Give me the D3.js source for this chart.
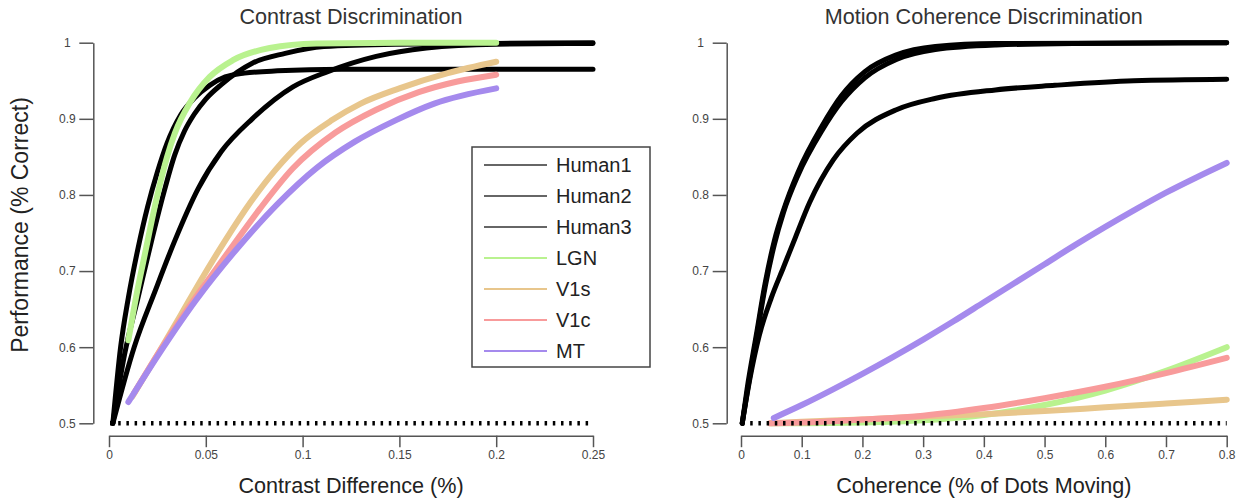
<!DOCTYPE html>
<html>
<head>
<meta charset="utf-8">
<script src="https://cdn.jsdelivr.net/npm/d3@7"></script>
<style>
  body { margin: 0; background: #fff; }
  svg { display: block; font-family: "Liberation Sans", Arial, Helvetica, sans-serif; }
</style>
</head>
<body>
<svg id="viz" width="1239" height="500"></svg>
<script>
// ---- data ----
const seriesNames = ["Human1", "Human2", "Human3", "LGN", "V1s", "V1c", "MT"];
const seriesColors = ["#000", "#000", "#000", "#b9f28f", "#e8c68c", "#f89b9b", "#a58aed"];

const yTicks = [0.5, 0.6, 0.7, 0.8, 0.9, 1];
const contrastTicks = [0, 0.05, 0.1, 0.15, 0.2, 0.25];
const coherenceTicks = [0, 0.1, 0.2, 0.3, 0.4, 0.5, 0.6, 0.7, 0.8];

// contrast discrimination  [contrast difference, performance]
const contrastHuman1 = [[0.002,0.5],[0.006,0.6],[0.01,0.665],[0.015,0.73],[0.02,0.785],[0.025,0.83],[0.03,0.868],[0.037,0.905],[0.044,0.927],[0.052,0.944],[0.06,0.955],[0.07,0.96],[0.087,0.963],[0.12,0.965],[0.25,0.965]];
const contrastHuman2 = [[0.002,0.5],[0.008,0.59],[0.015,0.665],[0.022,0.74],[0.028,0.8],[0.034,0.853],[0.039,0.884],[0.044,0.906],[0.05,0.926],[0.058,0.945],[0.074,0.973],[0.091,0.986],[0.111,0.995],[0.148,0.998],[0.2,0.999],[0.25,1]];
const contrastHuman3 = [[0.002,0.5],[0.013,0.6],[0.024,0.675],[0.034,0.74],[0.046,0.808],[0.058,0.857],[0.074,0.9],[0.095,0.942],[0.113,0.962],[0.138,0.982],[0.164,0.993],[0.2,0.998],[0.25,0.999]];
const contrastLGN = [[0.01,0.609],[0.014,0.666],[0.019,0.728],[0.025,0.8],[0.03,0.85],[0.034,0.881],[0.042,0.922],[0.052,0.955],[0.064,0.977],[0.083,0.993],[0.107,0.999],[0.15,1],[0.2,1]];
const contrastV1s = [[0.012,0.535],[0.025,0.59],[0.037,0.642],[0.047,0.686],[0.06,0.74],[0.073,0.79],[0.086,0.833],[0.099,0.868],[0.115,0.898],[0.13,0.92],[0.15,0.94],[0.175,0.96],[0.2,0.975]];
const contrastV1c = [[0.013,0.54],[0.025,0.59],[0.04,0.648],[0.05,0.684],[0.063,0.73],[0.078,0.782],[0.095,0.835],[0.117,0.882],[0.138,0.912],[0.16,0.935],[0.18,0.949],[0.2,0.958]];
const contrastMT = [[0.01,0.528],[0.025,0.588],[0.045,0.662],[0.067,0.732],[0.087,0.788],[0.107,0.835],[0.127,0.87],[0.148,0.898],[0.168,0.92],[0.2,0.94]];

// motion coherence discrimination  [coherence, performance]
const motionHuman1 = [[0.002,0.5],[0.01,0.545],[0.025,0.615],[0.04,0.685],[0.055,0.74],[0.07,0.78],[0.094,0.83],[0.133,0.89],[0.165,0.93],[0.204,0.962],[0.256,0.984],[0.32,0.995],[0.42,0.999],[0.8,1]];
const motionHuman2 = [[0.002,0.5],[0.01,0.54],[0.025,0.61],[0.04,0.68],[0.055,0.735],[0.07,0.777],[0.094,0.826],[0.133,0.884],[0.165,0.922],[0.204,0.954],[0.256,0.978],[0.32,0.991],[0.42,0.997],[0.55,0.999],[0.8,1]];
const motionHuman3 = [[0.002,0.5],[0.015,0.56],[0.03,0.615],[0.05,0.665],[0.07,0.705],[0.09,0.745],[0.113,0.79],[0.152,0.846],[0.191,0.881],[0.256,0.912],[0.321,0.927],[0.419,0.938],[0.517,0.944],[0.647,0.95],[0.8,0.952]];
const motionLGN = [[0.05,0.5],[0.1,0.5],[0.2,0.501],[0.3,0.504],[0.4,0.511],[0.5,0.524],[0.6,0.543],[0.7,0.569],[0.8,0.6]];
const motionV1s = [[0.048,0.5],[0.1,0.502],[0.2,0.505],[0.3,0.509],[0.4,0.512],[0.5,0.516],[0.6,0.521],[0.7,0.526],[0.8,0.531]];
const motionV1c = [[0.048,0.5],[0.1,0.501],[0.2,0.505],[0.3,0.51],[0.4,0.52],[0.5,0.533],[0.6,0.548],[0.7,0.566],[0.8,0.586]];
const motionMT = [[0.054,0.507],[0.1,0.524],[0.15,0.544],[0.2,0.565],[0.25,0.587],[0.3,0.61],[0.35,0.634],[0.4,0.659],[0.45,0.684],[0.5,0.709],[0.55,0.734],[0.6,0.758],[0.65,0.781],[0.7,0.803],[0.75,0.823],[0.8,0.842]];

const CHANCE = 0.5;

// ---- layout ----
const svg = d3.select("#viz");
const Y_TOP = 42.7, Y_BOT = 423.3, X_AXIS_Y = 435.7;

const panels = [
  {
    title: "Contrast Discrimination",
    xLabel: "Contrast Difference (%)",
    domain: [0, 0.25], range: [109, 593], axisX: 93.3,
    ticks: contrastTicks,
    series: [contrastHuman1, contrastHuman2, contrastHuman3, contrastLGN, contrastV1s, contrastV1c, contrastMT],
    yTitle: true
  },
  {
    title: "Motion Coherence Discrimination",
    xLabel: "Coherence (% of Dots Moving)",
    domain: [0, 0.8], range: [741, 1226.7], axisX: 726.7,
    ticks: coherenceTicks,
    series: [motionHuman1, motionHuman2, motionHuman3, motionLGN, motionV1s, motionV1c, motionMT],
    yTitle: false
  }
];

const y = d3.scaleLinear().domain([0.5, 1]).range([Y_BOT, Y_TOP]);

panels.forEach(p => drawPanel(p));
drawLegend();

function drawPanel(p) {
  const x = d3.scaleLinear().domain(p.domain).range(p.range);
  const g = svg.append("g");

  // y axis
  const ya = g.append("g")
    .attr("transform", `translate(${p.axisX},0)`)
    .call(d3.axisLeft(y).tickValues(yTicks).tickSize(14).tickSizeOuter(0).tickFormat(d => String(d)));
  ya.selectAll("text").attr("x", -26).attr("text-anchor", "middle");

  // x axis
  const xa = g.append("g")
    .attr("transform", `translate(0,${X_AXIS_Y})`)
    .call(d3.axisBottom(x).tickValues(p.ticks).tickSize(11.5).tickSizeOuter(0).tickPadding(3).tickFormat(d => String(d)));

  [ya, xa].forEach(a => a.attr("font-family", null).attr("font-size", null));
  g.selectAll(".domain, .tick line").attr("stroke", "#555").attr("stroke-width", 1.5);
  g.selectAll(".tick text").attr("fill", "#444").style("font-size", "12px");

  // curves
  const line = d3.line()
    .x(d => x(d[0]))
    .y(d => y(d[1]))
    .curve(d3.curveMonotoneX);

  g.append("g").selectAll("path")
    .data(p.series)
    .join("path")
    .attr("d", line)
    .attr("fill", "none")
    .attr("stroke", (d, i) => seriesColors[i])
    .attr("stroke-width", (d, i) => i < 3 ? 5 : 6)
    .attr("stroke-linecap", "round")
    .attr("stroke-linejoin", "round");

  // chance level
  g.append("line")
    .attr("x1", x(p.domain[0]) + 1)
    .attr("x2", x(p.domain[1]))
    .attr("y1", y(CHANCE))
    .attr("y2", y(CHANCE))
    .attr("stroke", "#000")
    .attr("stroke-width", 4.5)
    .attr("stroke-dasharray", "2.5,5.7");

  // titles
  const cx = (p.range[0] + p.range[1]) / 2;
  g.append("text")
    .attr("x", cx).attr("y", 24)
    .attr("text-anchor", "middle")
    .attr("fill", "#333")
    .style("font-size", "21.6px")
    .text(p.title);

  g.append("text")
    .attr("x", cx).attr("y", 493)
    .attr("text-anchor", "middle")
    .attr("fill", "#222")
    .style("font-size", "21.6px")
    .text(p.xLabel);

  if (p.yTitle) {
    g.append("text")
      .attr("transform", `translate(28,225) rotate(-90)`)
      .attr("text-anchor", "middle")
      .attr("fill", "#222")
      .style("font-size", "23px")
      .text("Performance (% Correct)");
  }
}

function drawLegend() {
  const lg = svg.append("g").attr("transform", "translate(472,147)");
  lg.append("rect")
    .attr("width", 178).attr("height", 220)
    .attr("fill", "#fff")
    .attr("stroke", "#444").attr("stroke-width", 1.5);

  const rows = lg.selectAll("g.row")
    .data(seriesNames)
    .join("g")
    .attr("class", "row")
    .attr("transform", (d, i) => `translate(0,${18 + i * 31})`);

  rows.append("line")
    .attr("x1", 12).attr("x2", 75)
    .attr("stroke", (d, i) => i < 3 ? "#333" : seriesColors[i])
    .attr("stroke-width", (d, i) => i < 3 ? 1.3 : 2);

  rows.append("text")
    .attr("x", 84).attr("dy", "0.35em")
    .attr("fill", "#222")
    .style("font-size", "20px")
    .text(d => d);
}
</script>
</body>
</html>
